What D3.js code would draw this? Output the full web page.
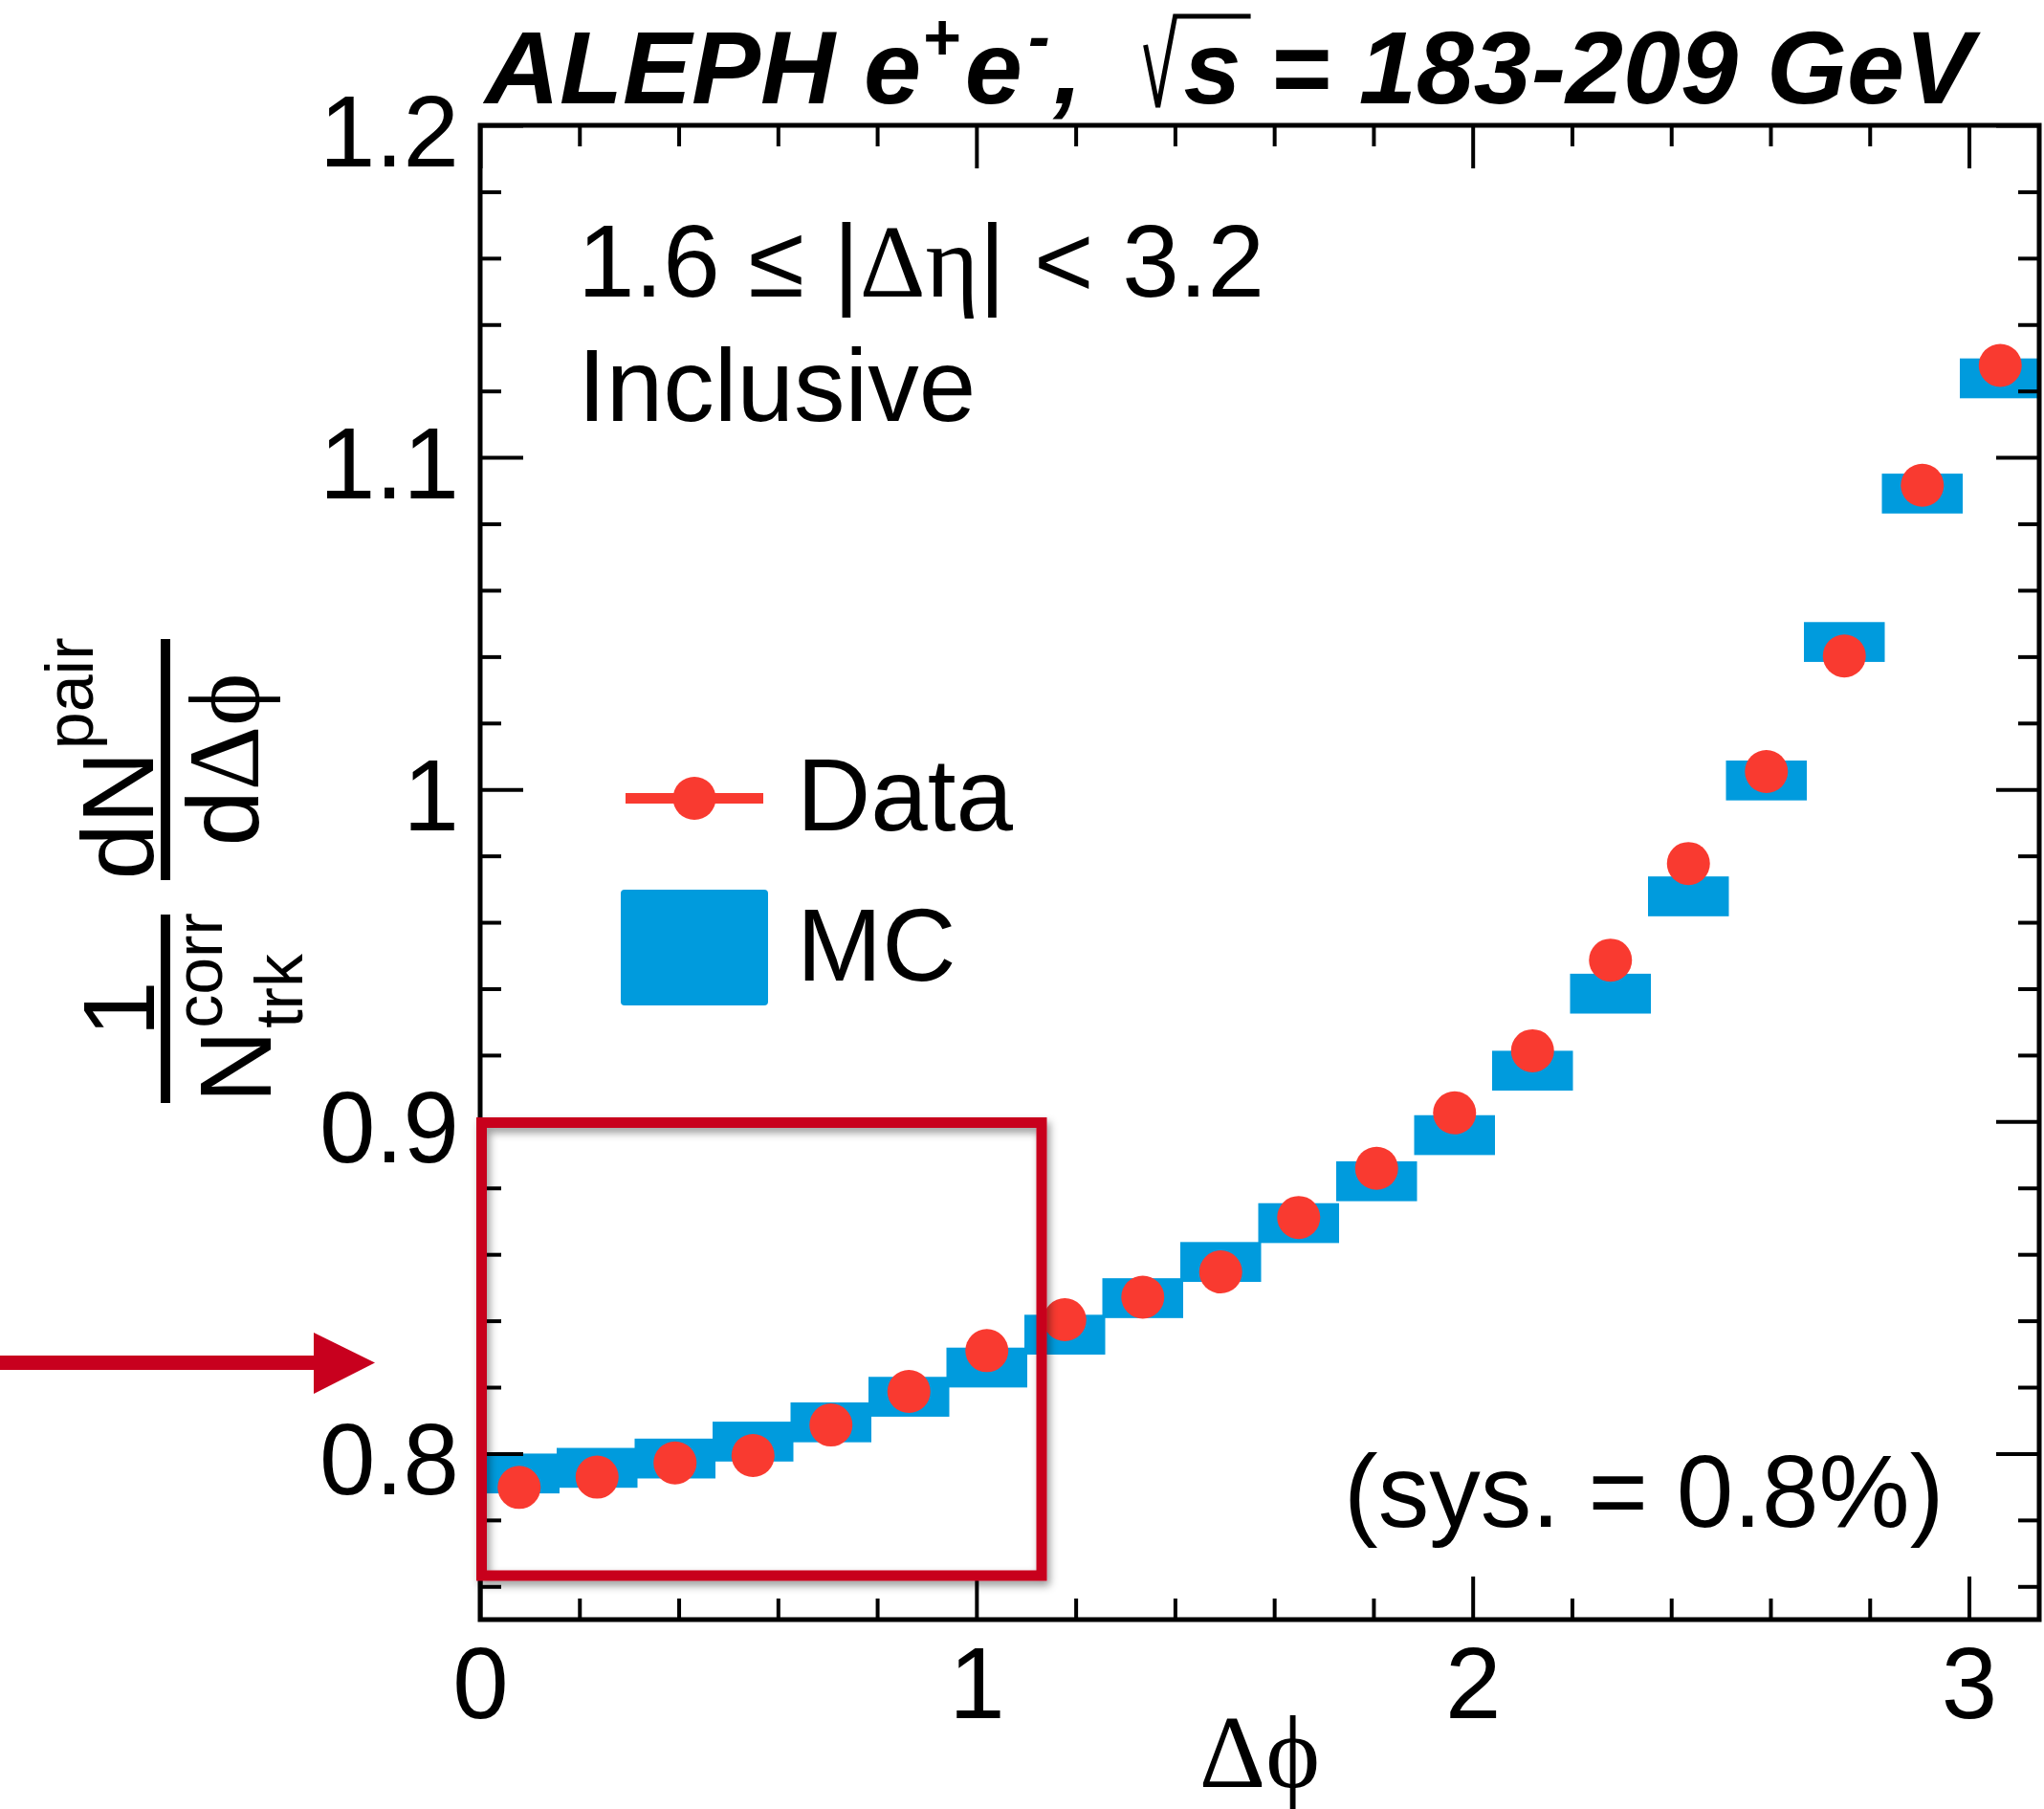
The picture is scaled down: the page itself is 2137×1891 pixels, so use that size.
<!DOCTYPE html>
<html>
<head>
<meta charset="utf-8">
<script src="https://cdn.jsdelivr.net/npm/d3@7"></script>
<style>
  html, body { margin: 0; padding: 0; background: #ffffff; }
  svg { display: block; }
  text { font-family: "Liberation Sans", Arial, Helvetica, sans-serif; fill: #000; }
  .greek { font-family: "Liberation Serif", "DejaVu Serif", serif; }
</style>
</head>
<body>
<svg id="chart" width="2137" height="1891"></svg>
<script>
// Δφ binning: 20 equal bins on [0, π]
const nBins = 20;
const phiMax = Math.PI;

// Normalised pair yield per Δφ bin
const dataValues = [0.7898, 0.7929, 0.7972, 0.7994, 0.8086, 0.8187, 0.8310, 0.8403, 0.8471, 0.8547,
                    0.8711, 0.8859, 0.9026, 0.9213, 0.9486, 0.9777, 1.0054, 1.0402, 1.0916, 1.1277];
const mcValues   = [0.7940, 0.7957, 0.7985, 0.8036, 0.8094, 0.8171, 0.8259, 0.8358, 0.8468, 0.8577,
                    0.8694, 0.8820, 0.8959, 0.9153, 0.9385, 0.9678, 1.0027, 1.0444, 1.0891, 1.1238];
// half-height of the MC uncertainty band
const mcHalfHeight = 0.006;

const xMajorTicks = [0, 1, 2, 3];
const xTickLabels = ["0", "1", "2", "3"];
const yMajorTicks = [0.8, 0.9, 1.0, 1.1, 1.2];
const yTickLabels = ["0.8", "0.9", "1", "1.1", "1.2"];

const colData = "#f93a30";
const colMC = "#009bdd";
const colMark = "#c8001e";
const FS = 105;   // axis labels / titles
const FT = 107;   // in-plot text

const svg = d3.select("#chart");
const W = 2137, H = 1891;
const frame = { left: 502, right: 2132, top: 131, bottom: 1693 };

svg.append("rect").attr("width", W).attr("height", H).attr("fill", "#ffffff");

const defs = svg.append("defs");
defs.append("clipPath").attr("id", "plotClip")
  .append("rect")
  .attr("x", frame.left).attr("y", frame.top)
  .attr("width", frame.right - frame.left).attr("height", frame.bottom - frame.top);
const shadow = defs.append("filter").attr("id", "dropShadow")
  .attr("x", "-10%").attr("y", "-10%").attr("width", "130%").attr("height", "130%");
shadow.append("feDropShadow").attr("dx", 3).attr("dy", 5).attr("stdDeviation", 4)
  .attr("flood-color", "#000").attr("flood-opacity", 0.4);

const x = d3.scaleLinear().domain([0, phiMax]).range([frame.left, frame.right]);
const y = d3.scaleLinear().domain([0.75, 1.2]).range([frame.bottom, frame.top]);

const binW = phiMax / nBins;
const bins = dataValues.map((v, i) => ({
  lo: i * binW, hi: (i + 1) * binW, c: (i + 0.5) * binW, data: v, mc: mcValues[i]
}));

// ---- MC boxes and data points
const plot = svg.append("g").attr("clip-path", "url(#plotClip)");
plot.selectAll("rect.mc").data(bins).enter().append("rect")
  .attr("class", "mc")
  .attr("x", d => x(d.lo) - 1.5)
  .attr("width", d => x(d.hi) - x(d.lo) + 3)
  .attr("y", d => y(d.mc + mcHalfHeight))
  .attr("height", d => y(d.mc - mcHalfHeight) - y(d.mc + mcHalfHeight))
  .attr("fill", colMC);
plot.selectAll("circle.data").data(bins).enter().append("circle")
  .attr("class", "data")
  .attr("cx", d => x(d.c))
  .attr("cy", d => y(d.data))
  .attr("r", 22.5)
  .attr("fill", colData);

// ---- axes with inward ticks on all four sides
const minorX = d3.range(0, 3.15, 0.2).filter(v => Math.abs(v - Math.round(v)) > 1e-6);
const minorY = d3.range(0, 23).map(i => 0.76 + i * 0.02).filter(v => v <= 1.2001 && Math.abs(v * 10 - Math.round(v * 10)) > 1e-6);

function styleAxis(g) {
  g.select(".domain").remove();
  g.selectAll(".tick line").attr("stroke", "#000").attr("stroke-width", 4);
  g.selectAll("text").style("font-size", FS + "px").attr("fill", "#000")
    .style("font-family", '"Liberation Sans", Arial, Helvetica, sans-serif');
}

const fmtX = (d) => xTickLabels[xMajorTicks.indexOf(d)];
const fmtY = (d) => yTickLabels[yMajorTicks.findIndex(v => Math.abs(v - d) < 1e-9)];

svg.append("g").attr("transform", `translate(0,${frame.bottom})`)
  .call(d3.axisBottom(x).tickValues(xMajorTicks).tickSize(-45).tickPadding(28).tickFormat(fmtX))
  .call(styleAxis);
svg.append("g").attr("transform", `translate(0,${frame.bottom})`)
  .call(d3.axisBottom(x).tickValues(minorX).tickSize(-22).tickFormat(""))
  .call(styleAxis);
svg.append("g").attr("transform", `translate(0,${frame.top})`)
  .call(d3.axisTop(x).tickValues(xMajorTicks).tickSize(-45).tickFormat(""))
  .call(styleAxis);
svg.append("g").attr("transform", `translate(0,${frame.top})`)
  .call(d3.axisTop(x).tickValues(minorX).tickSize(-22).tickFormat(""))
  .call(styleAxis);

svg.append("g").attr("transform", `translate(${frame.left},0)`)
  .call(d3.axisLeft(y).tickValues(yMajorTicks).tickSize(-45).tickPadding(22).tickFormat(fmtY))
  .call(styleAxis)
  .selectAll("text").attr("dy", "0.40em");
svg.append("g").attr("transform", `translate(${frame.left},0)`)
  .call(d3.axisLeft(y).tickValues(minorY).tickSize(-22).tickFormat(""))
  .call(styleAxis);
svg.append("g").attr("transform", `translate(${frame.right},0)`)
  .call(d3.axisRight(y).tickValues(yMajorTicks).tickSize(-45).tickFormat(""))
  .call(styleAxis);
svg.append("g").attr("transform", `translate(${frame.right},0)`)
  .call(d3.axisRight(y).tickValues(minorY).tickSize(-22).tickFormat(""))
  .call(styleAxis);

svg.append("rect")
  .attr("x", frame.left).attr("y", frame.top)
  .attr("width", frame.right - frame.left).attr("height", frame.bottom - frame.top)
  .attr("fill", "none").attr("stroke", "#000").attr("stroke-width", 5);

// ---- x-axis title
svg.append("text")
  .attr("x", (frame.left + frame.right) / 2).attr("y", 1868)
  .attr("text-anchor", "middle").attr("class", "greek")
  .style("font-size", "108px")
  .text("\u0394\u03D5");

// ---- y-axis title: 1/N_trk^corr dN^pair/dΔφ (rotated)
const yt = svg.append("g").attr("transform", "rotate(-90)");
function piece(g, str, px, py, size, cls) {
  const t = g.append("text").attr("x", px).attr("y", py).style("font-size", size + "px").text(str);
  if (cls) t.attr("class", cls);
  return t;
}
function width(t) { return t.node().getComputedTextLength(); }

// first fraction
const f1lo = -1153, f1hi = -956, fc1 = (f1lo + f1hi) / 2;
yt.append("rect").attr("x", f1lo).attr("y", 168).attr("width", f1hi - f1lo).attr("height", 10).attr("fill", "#000");
piece(yt, "1", fc1, 161, FS).attr("text-anchor", "middle");
{
  const n = piece(yt, "N", 0, 283, FS);
  const sup = piece(yt, "corr", 0, 232, 70);
  const sub = piece(yt, "trk", 0, 316, 70);
  const wN = width(n), wS = Math.max(width(sup), width(sub));
  const start = fc1 - (wN + wS) / 2;
  n.attr("x", start);
  sup.attr("x", start + wN + 2);
  sub.attr("x", start + wN + 2);
}
// second fraction
const f2lo = -920, f2hi = -668, fc2 = (f2lo + f2hi) / 2;
yt.append("rect").attr("x", f2lo).attr("y", 168).attr("width", f2hi - f2lo).attr("height", 10).attr("fill", "#000");
{
  const dn = piece(yt, "dN", 0, 160, FS);
  const sup = piece(yt, "pair", 0, 97, 70);
  const w1 = width(dn), w2 = width(sup);
  const start = fc2 - (w1 + w2) / 2;
  dn.attr("x", start);
  sup.attr("x", start + w1 + 2);
  const den = yt.append("text").attr("x", fc2).attr("y", 270).attr("text-anchor", "middle")
    .style("font-size", FS + "px");
  den.append("tspan").text("d");
  den.append("tspan").attr("class", "greek").text("\u0394\u03D5");
}

// ---- title
const TF = 108;
const titleStyle = (t) => t.style("font-weight", "bold").style("font-style", "italic").style("font-size", TF + "px");
const title = svg.append("text").attr("x", 507).attr("y", 108).call(titleStyle);
title.append("tspan").text("ALEPH e");
title.append("tspan").attr("dy", -46).attr("dx", 1).style("font-size", "68px").text("+");
title.append("tspan").attr("dy", 46).attr("dx", 5).text("e");
title.append("tspan").attr("dy", -46).attr("dx", 6).style("font-size", "68px").text("-");
title.append("tspan").attr("dy", 46).attr("dx", 4).text(",");
const titleBox = title.node().getBBox();
const rx = titleBox.x + titleBox.width + 66;
svg.append("path")
  .attr("d", `M${rx},${47} L${rx + 13},${112} L${rx + 31},${17} L${rx + 110},${17}`)
  .attr("fill", "none").attr("stroke", "#000").attr("stroke-width", 5).attr("stroke-linejoin", "miter");
const sText = svg.append("text").attr("x", rx + 40).attr("y", 108).call(titleStyle).text("s");
svg.append("text").attr("x", rx + 40 + width(sText)).attr("y", 108).call(titleStyle)
  .attr("xml:space", "preserve").text(" = 183-209 GeV");

// ---- selection labels
const sel = svg.append("text").attr("x", 604).attr("y", 310).style("font-size", FT + "px")
  .attr("xml:space", "preserve");
sel.append("tspan").text("1.6 \u2264 |");
sel.append("tspan").attr("class", "greek").text("\u0394\u03B7");
sel.append("tspan").text("| < 3.2");
svg.append("text").attr("x", 604).attr("y", 440).style("font-size", FT + "px").text("Inclusive");
svg.append("text").attr("x", 1405).attr("y", 1596).style("font-size", FT + "px")
  .attr("xml:space", "preserve").text("(sys. = 0.8%)");

// ---- legend
const leg = svg.append("g");
leg.append("line").attr("x1", 654).attr("x2", 798).attr("y1", 834.5).attr("y2", 834.5)
  .attr("stroke", colData).attr("stroke-width", 11);
leg.append("circle").attr("cx", 726).attr("cy", 834.5).attr("r", 22.5).attr("fill", colData);
leg.append("text").attr("x", 833).attr("y", 868).style("font-size", FT + "px").text("Data");
leg.append("rect").attr("x", 649).attr("y", 930).attr("width", 154).attr("height", 121)
  .attr("rx", 4).attr("fill", colMC);
leg.append("text").attr("x", 833).attr("y", 1025).style("font-size", FT + "px").text("MC");

// ---- highlight box over the near-side region and pointer arrow
svg.append("rect")
  .attr("x", 503.5).attr("y", 1173.5).attr("width", 585.5).attr("height", 473.5)
  .attr("fill", "none").attr("stroke", colMark).attr("stroke-width", 11)
  .attr("filter", "url(#dropShadow)");
svg.append("rect").attr("x", 0).attr("y", 1417).attr("width", 330).attr("height", 15).attr("fill", colMark);
svg.append("path").attr("d", "M328,1393 L392,1424.5 L328,1457 Z").attr("fill", colMark);
</script>
</body>
</html>
